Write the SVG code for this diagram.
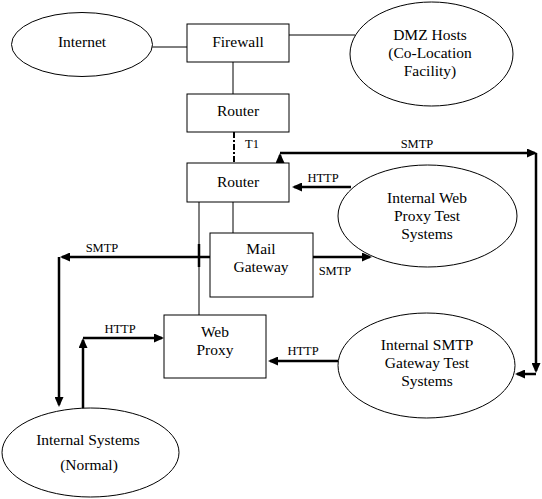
<svg xmlns="http://www.w3.org/2000/svg" width="542" height="499" viewBox="0 0 542 499">
<defs>
<style>
.box{fill:#fff;stroke:#000;stroke-width:1}
.ell{fill:#fff;stroke:#000;stroke-width:1}
.thin{fill:none;stroke:#000;stroke-width:1}
.thick{fill:none;stroke:#000;stroke-width:2.5;marker-end:url(#arr)}
.lbl{font-family:"Liberation Serif","Times New Roman",serif;font-size:15.5px;fill:#000;text-anchor:middle}
.sm{font-family:"Liberation Serif","Times New Roman",serif;font-size:12.5px;fill:#000;text-anchor:middle}
</style>
<marker id="arr" markerUnits="userSpaceOnUse" markerWidth="10" markerHeight="9" refX="8" refY="4.5" orient="auto">
<path d="M0,0 L10,4.5 L0,9 z" fill="#000"/>
</marker>
</defs>
<rect width="542" height="499" fill="#fff"/>
<g id="connectors">
<line class="thin" x1="152" y1="47" x2="187" y2="47"/>
<line class="thin" x1="289" y1="35" x2="355" y2="35"/>
<line class="thin" x1="233" y1="62" x2="233" y2="94"/>
<line x1="234" y1="132" x2="234" y2="163" stroke="#000" stroke-width="2" stroke-dasharray="6,2,2,2"/>
<line class="thin" x1="233" y1="202" x2="233" y2="233"/>
<line class="thin" x1="199" y1="202" x2="199" y2="315"/>
<line x1="199" y1="244" x2="199" y2="267" stroke="#000" stroke-width="2.5"/>
<path class="thick" d="M280,163 V155"/>
<path class="thick" d="M280,153 H535"/>
<path class="thick" d="M536,153 V371"/>
<path class="thick" d="M536,374 H517"/>
<path class="thick" d="M351,187 H294"/>
<path class="thick" d="M210,257 H62"/>
<path class="thick" d="M59,257 V405"/>
<path class="thick" d="M313,257 H370"/>
<path class="thick" d="M83,409 V340"/>
<path class="thick" d="M83,338 H162"/>
<path class="thick" d="M338,361 H270"/>
<text class="sm" x="252" y="148">T1</text>
<text class="sm" x="417" y="148">SMTP</text>
<text class="sm" x="323" y="182">HTTP</text>
<text class="sm" x="102" y="252">SMTP</text>
<text class="sm" x="335" y="275">SMTP</text>
<text class="sm" x="120" y="333">HTTP</text>
<text class="sm" x="303" y="355">HTTP</text>
</g>
<g id="internet">
<ellipse class="ell" cx="82" cy="44.5" rx="70.5" ry="32"/>
<text class="lbl" x="82" y="47">Internet</text>
</g>
<g id="firewall">
<rect class="box" x="187" y="24" width="102" height="38"/>
<text class="lbl" x="238" y="47">Firewall</text>
</g>
<g id="dmz">
<ellipse class="ell" cx="431.5" cy="54" rx="81.5" ry="52"/>
<text class="lbl" x="430" y="39.5">DMZ Hosts</text>
<text class="lbl" x="430" y="57.5">(Co-Location</text>
<text class="lbl" x="430" y="75.5">Facility)</text>
</g>
<g id="router1">
<rect class="box" x="187" y="94" width="102" height="38"/>
<text class="lbl" x="238" y="116">Router</text>
</g>
<g id="router2">
<rect class="box" x="187" y="163" width="102" height="39"/>
<text class="lbl" x="238" y="187">Router</text>
</g>
<g id="webproxytest">
<ellipse class="ell" cx="427.5" cy="216" rx="89.5" ry="51"/>
<text class="lbl" x="427" y="203">Internal Web</text>
<text class="lbl" x="427" y="221">Proxy Test</text>
<text class="lbl" x="427" y="238.5">Systems</text>
</g>
<g id="mailgateway">
<rect class="box" x="210" y="233" width="103" height="64"/>
<text class="lbl" x="261" y="254">Mail</text>
<text class="lbl" x="261" y="272">Gateway</text>
</g>
<g id="webproxy">
<rect class="box" x="164" y="315" width="102" height="63"/>
<text class="lbl" x="215" y="337">Web</text>
<text class="lbl" x="215" y="355">Proxy</text>
</g>
<g id="smtptest">
<ellipse class="ell" cx="426.5" cy="365.5" rx="88.5" ry="52.5"/>
<text class="lbl" x="427" y="350">Internal SMTP</text>
<text class="lbl" x="427" y="368">Gateway Test</text>
<text class="lbl" x="427" y="386">Systems</text>
</g>
<g id="internalsystems">
<ellipse class="ell" cx="90.5" cy="452.5" rx="88.5" ry="44.5"/>
<text class="lbl" x="88" y="445">Internal Systems</text>
<text class="lbl" x="89" y="470">(Normal)</text>
</g>
</svg>
